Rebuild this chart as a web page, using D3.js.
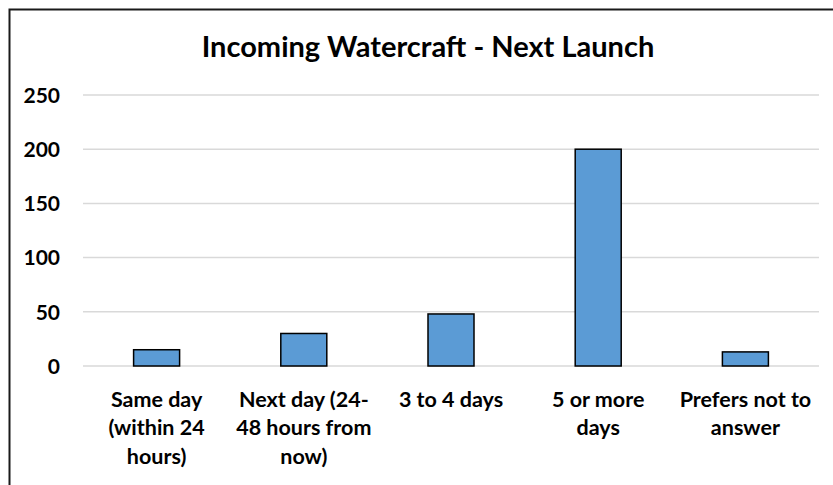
<!DOCTYPE html>
<html>
<head>
<meta charset="utf-8">
<script src="https://cdn.jsdelivr.net/npm/d3@7"></script>
<style>
  body { margin: 0; background: #fff; }
  text { font-family: Lato, "Open Sans", sans-serif; font-weight: bold; fill: #000; }
</style>
</head>
<body>
<div id="chart"></div>
<script>
// Datos
const categories = ["Same day", "Next day", "3 to 4 days", "5 or more days", "Prefers not to answer"];
const values = [15, 30, 48, 200, 13];
const categoryLines = [
  ["Same day", "(within 24", "hours)"],
  ["Next day (24-", "48 hours from", "now)"],
  ["3 to 4 days"],
  ["5 or more", "days"],
  ["Prefers not to", "answer"],
];
const yTicks = [0, 50, 100, 150, 200, 250];
const title = "Incoming Watercraft - Next Launch";

const width = 833;
const height = 485;
const margin = { top: 95, bottom: 119, left: 83, right: 14 };

const svg = d3
  .select("div#chart")
  .append("svg")
  .attr("width", width)
  .attr("height", height);

// borde del gráfico
svg
  .append("rect")
  .attr("x", 9.5)
  .attr("y", 9.5)
  .attr("width", width + 20)
  .attr("height", height + 20)
  .attr("fill", "none")
  .attr("stroke", "#1a1a1a")
  .attr("stroke-width", 2);

// Escalas
const x = d3
  .scaleBand()
  .domain(categories)
  .range([margin.left, width - margin.right])
  .paddingInner(0.6875)
  .paddingOuter(0.34375);

const y = d3
  .scaleLinear()
  .domain([0, 250])
  .range([height - margin.bottom, margin.top]);

// rejilla
svg
  .append("g")
  .selectAll("line")
  .data(yTicks)
  .enter()
  .append("line")
  .attr("x1", margin.left)
  .attr("x2", width - margin.right)
  .attr("y1", (d) => y(d))
  .attr("y2", (d) => y(d))
  .attr("stroke", "#d9d9d9")
  .attr("stroke-width", 1.5);

// eje Y
const yAxis = d3.axisLeft(y).tickValues(yTicks).tickSize(0).tickPadding(0);
svg
  .append("g")
  .attr("transform", `translate(${margin.left - 23}, 0)`)
  .call(yAxis)
  .call((g) => g.select(".domain").remove())
  .selectAll("text")
  .style("font-size", "21px")
  .attr("dy", "0.35em");

// barras
svg
  .append("g")
  .selectAll("rect")
  .data(values)
  .enter()
  .append("rect")
  .attr("x", (d, i) => x(categories[i]))
  .attr("y", (d) => y(d))
  .attr("width", x.bandwidth())
  .attr("height", (d) => y(0) - y(d))
  .attr("fill", "#5b9bd5")
  .attr("stroke", "#000")
  .attr("stroke-width", 1.5);

// etiquetas de categoría
const xLabels = svg
  .append("g")
  .selectAll("text")
  .data(categories)
  .enter()
  .append("text")
  .attr("text-anchor", "middle")
  .attr("transform", (d) => `translate(${x(d) + x.bandwidth() / 2}, 407)`)
  .style("font-size", "21.5px");

xLabels
  .selectAll("tspan")
  .data((d, i) => categoryLines[i])
  .enter()
  .append("tspan")
  .attr("x", 0)
  .attr("dy", (d, i) => (i === 0 ? 0 : 28.3))
  .text((d) => d);

// título
svg
  .append("text")
  .attr("x", 428)
  .attr("y", 57)
  .attr("text-anchor", "middle")
  .style("font-size", "29px")
  .text(title);
</script>
</body>
</html>
